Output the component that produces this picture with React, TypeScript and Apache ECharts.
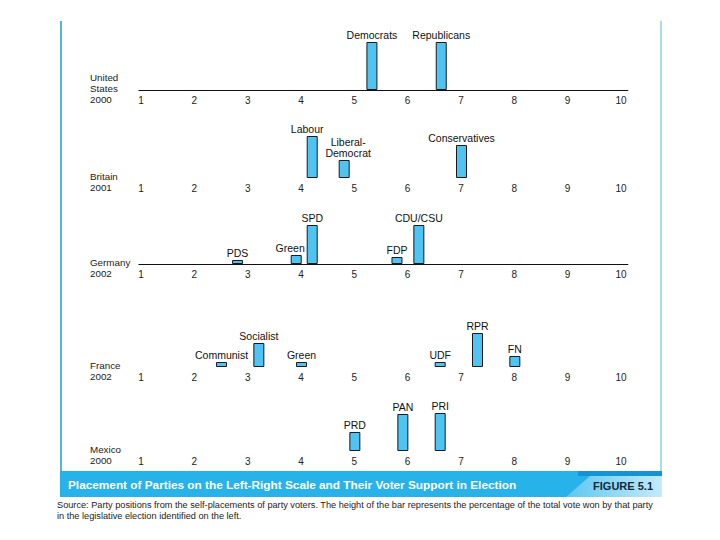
import React, { useEffect, useRef } from "react";
import * as echarts from "echarts";

// ---- data ----
const scaleTicks = [1, 2, 3, 4, 5, 6, 7, 8, 9, 10];

const countryNames = ["United\nStates", "Britain", "Germany", "France", "Mexico"];
const electionYears = ["2000", "2001", "2002", "2002", "2000"];

const usParties = ["Democrats", "Republicans"];
const usPositions = [5.33, 6.63];
const usVotes = [48, 48];

const britainParties = ["Labour", "Liberal-Democrat", "Conservatives"];
const britainPositions = [4.21, 4.81, 7.01];
const britainVotes = [42, 18, 33];

const germanyParties = ["PDS", "Green", "SPD", "FDP", "CDU/CSU"];
const germanyPositions = [2.81, 3.91, 4.21, 5.8, 6.21];
const germanyVotes = [4, 9, 39, 7, 39];

const franceParties = ["Communist", "Socialist", "Green", "UDF", "RPR", "FN"];
const francePositions = [2.51, 3.21, 4.01, 6.61, 7.31, 8.01];
const franceVotes = [5, 24, 5, 5, 34, 11];

const mexicoParties = ["PRD", "PAN", "PRI"];
const mexicoPositions = [5.01, 5.91, 6.61];
const mexicoVotes = [19, 37, 38];

const captionTitle =
  "Placement of Parties on the Left-Right Scale and Their Voter Support in Election";
const figureLabel = "FIGURE 5.1";
const sourceLines = [
  "Source: Party positions from the self-placements of party voters. The height of the bar represents the percentage of the total vote won by that party",
  "in the legislative election identified on the left.",
];

// ---- layout / style ----
const FONT = '"Liberation Sans", Arial, Helvetica, sans-serif';
const baselines = [90, 178, 264, 367, 451];
const showBaseline = [true, false, true, false, false];
const labelNudge: Record<string, [number, number]> = {
  Labour: [-5, 0],
  "Liberal-Democrat": [4, 0],
};
const greenGermanyNudge: [number, number] = [-6, 0];

export default function App() {
  const ref = useRef<HTMLDivElement>(null);

  useEffect(() => {
    if (!ref.current) return;
    const chart = echarts.init(ref.current, undefined, { renderer: "svg" });

    const panels = [
      { parties: usParties, pos: usPositions, votes: usVotes },
      { parties: britainParties, pos: britainPositions, votes: britainVotes },
      { parties: germanyParties, pos: germanyPositions, votes: germanyVotes },
      { parties: franceParties, pos: francePositions, votes: franceVotes },
      { parties: mexicoParties, pos: mexicoPositions, votes: mexicoVotes },
    ];

    const xMin = 0.96;
    const xMax = 10.13;
    const pxPerUnit = 53.33;
    const gridLeft = 141 - (1 - xMin) * pxPerUnit;
    const gridWidth = (xMax - xMin) * pxPerUnit;
    const yMax = 50;

    const grids: any[] = [];
    const xAxes: any[] = [];
    const yAxes: any[] = [];
    const series: any[] = [];
    const graphics: any[] = [];

    panels.forEach((p, i) => {
      const base = baselines[i];
      grids.push({ left: gridLeft, width: gridWidth, top: base - yMax, height: yMax });
      xAxes.push({
        gridIndex: i,
        type: "value",
        min: xMin,
        max: xMax,
        splitLine: { show: false },
        axisTick: { show: false },
        axisLine: {
          show: showBaseline[i],
          onZero: false,
          lineStyle: { color: "#111", width: 1 },
        },
        axisLabel: {
          customValues: scaleTicks,
          margin: 5,
          fontSize: 10,
          color: "#222",
          fontFamily: FONT,
        },
      });
      yAxes.push({ gridIndex: i, type: "value", min: 0, max: yMax, show: false });
      series.push({
        type: "bar",
        xAxisIndex: i,
        yAxisIndex: i,
        barWidth: 11,
        data: p.parties.map((name, j) => {
          let nudge = labelNudge[name];
          if (i === 2 && name === "Green") nudge = greenGermanyNudge;
          return {
            name,
            value: [p.pos[j], p.votes[j]],
            label: nudge ? { offset: nudge } : undefined,
          };
        }),
        itemStyle: { color: "#4fc4f2", borderColor: "#1a1a1a", borderWidth: 1 },
        label: {
          show: true,
          position: "top",
          distance: 2,
          fontSize: 10.5,
          lineHeight: 11,
          color: "#111",
          fontFamily: FONT,
          formatter: (d: any) => String(d.name).replace("Liberal-", "Liberal-\n"),
        },
      });
      graphics.push({
        type: "text",
        left: 90,
        top: base + 15 - (countryNames[i].split("\n").length + 1) * 11,
        style: {
          text: countryNames[i] + "\n" + electionYears[i],
          fontSize: 9.8,
          lineHeight: 11,
          fill: "#222",
          fontFamily: FONT,
        },
      });
    });

    // frame lines
    graphics.push({
      type: "line",
      shape: { x1: 61, y1: 21, x2: 61, y2: 472 },
      style: { stroke: "#1a9fc1", lineWidth: 1.5 },
    });
    graphics.push({
      type: "line",
      shape: { x1: 661, y1: 21, x2: 661, y2: 472 },
      style: { stroke: "#6fc6e4", lineWidth: 1.2 },
    });
    // caption bar
    graphics.push({
      type: "rect",
      shape: { x: 60, y: 471, width: 602, height: 26 },
      style: { fill: "#27b2ea" },
    });
    graphics.push({
      type: "polygon",
      shape: { points: [[590, 476], [662, 476], [662, 497], [566, 497]] },
      style: {
        fill: new echarts.graphic.LinearGradient(0, 0, 1, 0, [
          { offset: 0, color: "#5cc7f0" },
          { offset: 1, color: "#c3ebfa" },
        ]),
      },
    });
    graphics.push({
      type: "rect",
      shape: { x: 578, y: 471, width: 84, height: 5 },
      style: { fill: "#1593d4" },
    });
    graphics.push({
      type: "text",
      x: 68,
      y: 485,
      style: {
        text: captionTitle,
        fill: "#ffffff",
        fontSize: 11.8,
        fontWeight: "bold",
        fontFamily: FONT,
        textVerticalAlign: "middle",
      },
    });
    graphics.push({
      type: "text",
      x: 653,
      y: 486,
      style: {
        text: figureLabel,
        fill: "#15293a",
        fontSize: 11,
        fontWeight: "bold",
        fontFamily: FONT,
        textAlign: "right",
        textVerticalAlign: "middle",
      },
    });
    sourceLines.forEach((line, k) => {
      graphics.push({
        type: "text",
        x: 57,
        y: 505 + k * 11,
        style: {
          text: line,
          fill: "#222",
          fontSize: 9.2,
          fontFamily: FONT,
          textVerticalAlign: "middle",
        },
      });
    });

    chart.setOption({
      animation: false,
      backgroundColor: "#ffffff",
      grid: grids,
      xAxis: xAxes,
      yAxis: yAxes,
      series,
      graphic: graphics,
    });

    return () => chart.dispose();
  }, []);

  return (
    <div
      ref={ref}
      style={{ position: "fixed", left: 0, top: 0, width: 720, height: 540 }}
    />
  );
}
